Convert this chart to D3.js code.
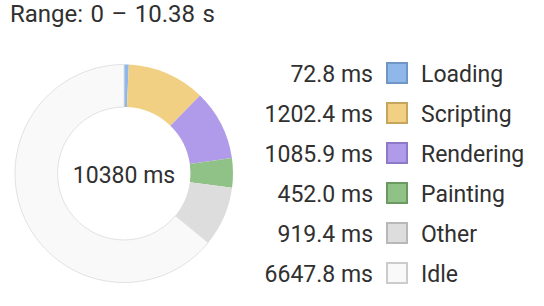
<!DOCTYPE html>
<meta charset="utf-8">
<style>
body { margin: 0; background: #fff; }
text { font-family: "Roboto", "Noto Sans", sans-serif; fill: #303030; font-size: 23px; }
</style>
<body>
<div id="chart"></div>
<script src="https://d3js.org/d3.v7.min.js"></script>
<script>
// categories and values (ms)
var categories = ["Loading", "Scripting", "Rendering", "Painting", "Other", "Idle"];
var values = [72.8, 1202.4, 1085.9, 452.0, 919.4, 6647.8];
var fills = ["#90b7e9", "#f2d083", "#b09aea", "#90c187", "#dddddd", "#f9f9f9"];
var borders = ["#6f96c4", "#c6a65e", "#8e78c8", "#6b9a60", "#b8b8b8", "#cccccc"];
var total = 10380;
var rangeLabel = "Range: 0 \u2013 10.38 s";

var width = 544, height = 306;
var cx = 124, cy = 173.5, outerR = 109, innerR = 66.5;

var svg = d3.select("#chart").append("svg")
    .attr("width", width)
    .attr("height", height);

svg.append("text")
    .attr("x", 10)
    .attr("y", 22)
    .style("font-size", "24px")
    .style("word-spacing", "1.5px")
    .text(rangeLabel);

var data = categories.map(function(c, i) { return {name: c, value: values[i], fill: fills[i], border: borders[i]}; });

var pie = d3.pie().sort(null).value(function(d) { return d.value; });
var arc = d3.arc().innerRadius(innerR).outerRadius(outerR);

var g = svg.append("g").attr("transform", "translate(" + cx + "," + cy + ")");
g.selectAll("path")
    .data(pie(data))
  .enter().append("path")
    .attr("d", arc)
    .style("fill", function(d) { return d.data.fill; })
    .style("stroke", function(d) { return d.data.name == "Idle" ? "#e2e2e2" : "none"; })
    .style("stroke-width", 1);

g.append("text")
    .attr("y", 9)
    .style("text-anchor", "middle")
    .text(total + " ms");

// legend
var y = d3.scaleBand().domain(categories).range([53, 293]);
var rows = svg.selectAll(".row")
    .data(data)
  .enter().append("g")
    .attr("class", "row")
    .attr("transform", function(d) { return "translate(0," + (y(d.name) + y.bandwidth() / 2) + ")"; });

rows.append("text")
    .attr("x", 373)
    .attr("y", 8.5)
    .style("text-anchor", "end")
    .text(function(d) { return d.value.toFixed(1) + " ms"; });

rows.append("rect")
    .attr("x", 387)
    .attr("y", -10)
    .attr("width", 20)
    .attr("height", 20)
    .style("fill", function(d) { return d.fill; })
    .style("stroke", function(d) { return d.border; })
    .style("stroke-width", 2);

rows.append("text")
    .attr("x", 421)
    .attr("y", 8.5)
    .text(function(d) { return d.name; });
</script>
</body>
